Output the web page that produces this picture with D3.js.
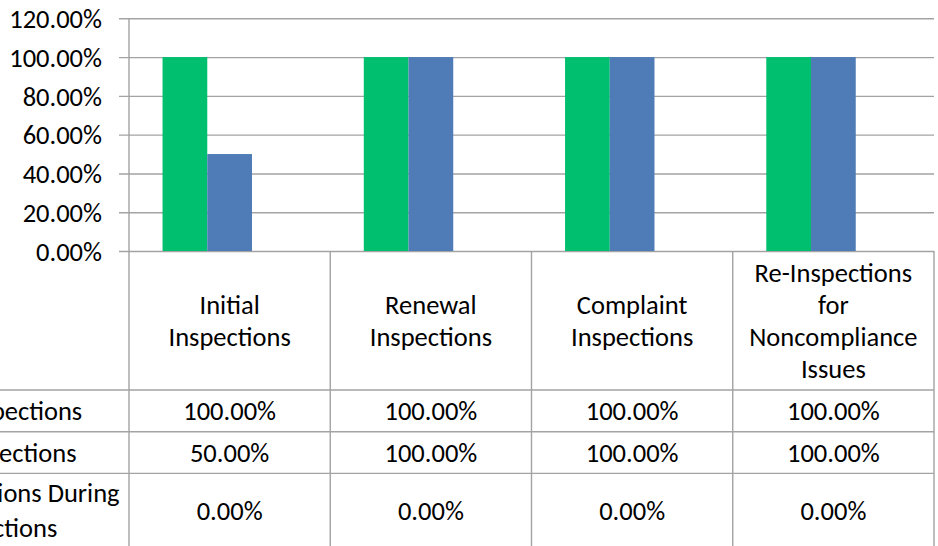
<!DOCTYPE html>
<html>
<head>
<meta charset="utf-8">
<script src="https://cdn.jsdelivr.net/npm/d3@7"></script>
<style>
  html, body { margin: 0; padding: 0; background: #ffffff; }
  svg { display: block; }
  text { font-family: Carlito, Lato, "Open Sans", sans-serif; fill: #000; }
</style>
</head>
<body>
<script>
// ---- data ----
const categories = ["Initial Inspections", "Renewal Inspections", "Complaint Inspections", "Re-Inspections for Noncompliance Issues"];
const seriesNames = ["% Inspections", "# Inspections", "Violations During Inspections"];
const series1 = [1.00, 1.00, 1.00, 1.00];
const series2 = [0.50, 1.00, 1.00, 1.00];
const series3 = [0.00, 0.00, 0.00, 0.00];
const seriesValues = [series1, series2, series3];
const yTicks = [0, 0.2, 0.4, 0.6, 0.8, 1.0, 1.2];
const colors = ["#00BF6F", "#4F7BB6", "#A5A5A5"];

// ---- layout ----
const W = 938, H = 546;
const FS = 26.5;
const plotLeft = 129, plotRight = 934, plotTop = 18.3, plotBottom = 251;
const rowHeights = [139, 41.7, 41.7, 74];
const rowHeaderX = -65;
const gridColor = "#a3a3a3";

const svg = d3.select("body").append("svg").attr("width", W).attr("height", H);

const x0 = d3.scaleBand().domain(categories).range([plotLeft, plotRight]).paddingInner(1/3).paddingOuter(1/6);
const x1 = d3.scaleBand().domain(seriesNames).range([0, x0.bandwidth()]);
const y = d3.scaleLinear().domain([0, 1.2]).range([plotBottom, plotTop]);
const color = d3.scaleOrdinal().domain(seriesNames).range(colors);
const fmt = d3.format(".2%");

// gridlines + ticks
const yAxis = d3.axisLeft(y).tickValues(yTicks).tickFormat(fmt)
  .tickSize(-(plotRight - plotLeft)).tickPadding(0);
const gAxis = svg.append("g").attr("transform", `translate(${plotLeft},0)`).call(yAxis);
gAxis.select(".domain").remove();
gAxis.selectAll(".tick line").attr("stroke", gridColor).attr("stroke-width", 1.4).attr("x1", -10);
gAxis.selectAll(".tick text").attr("x", -27).attr("font-size", FS).attr("fill", "#000")
  .style("font-family", "Carlito, Lato, 'Open Sans', sans-serif").attr("dy", "0.35em");

// bars
const groups = svg.append("g").selectAll("g").data(categories).join("g")
  .attr("transform", c => `translate(${x0(c)},0)`);
groups.selectAll("rect")
  .data((c, i) => seriesNames.map((s, k) => ({ s, v: seriesValues[k][i] })))
  .join("rect")
  .attr("x", d => x1(d.s))
  .attr("width", x1.bandwidth())
  .attr("y", d => y(d.v))
  .attr("height", d => y(0) - y(d.v))
  .attr("fill", d => color(d.s));

// ---- data table ----
const step = x0.step();
const colEdges = d3.range(categories.length + 1).map(i => plotLeft + i * step);
const rowEdges = [plotBottom];
rowHeights.forEach(h => rowEdges.push(rowEdges[rowEdges.length - 1] + h));
const tableBottom = rowEdges[rowEdges.length - 1];

const gT = svg.append("g");
gT.append("line").attr("x1", plotLeft).attr("x2", plotLeft).attr("y1", plotTop).attr("y2", tableBottom)
  .attr("stroke", gridColor).attr("stroke-width", 1.4);
colEdges.slice(1).forEach(xv => {
  gT.append("line").attr("x1", xv).attr("x2", xv).attr("y1", plotBottom).attr("y2", tableBottom)
    .attr("stroke", gridColor).attr("stroke-width", 1.4);
});
rowEdges.slice(1).forEach(yv => {
  gT.append("line").attr("x1", -300).attr("x2", plotRight).attr("y1", yv).attr("y2", yv)
    .attr("stroke", gridColor).attr("stroke-width", 1.4);
});

function wrapLines(str, maxW) {
  const tmp = svg.append("text").attr("font-size", FS);
  const words = str.split(" ");
  const lines = [];
  let cur = "";
  words.forEach(w => {
    const test = cur ? cur + " " + w : w;
    tmp.text(test);
    if (tmp.node().getComputedTextLength() > maxW && cur) { lines.push(cur); cur = w; }
    else cur = test;
  });
  if (cur) lines.push(cur);
  tmp.remove();
  return lines;
}
const lineH = 32;

// header row: category labels
categories.forEach(c => {
  const lines = wrapLines(c, step * 0.86);
  const cy = (rowEdges[0] + rowEdges[1]) / 2;
  const t = gT.append("text").attr("text-anchor", "middle").attr("font-size", FS);
  lines.forEach((ln, i) => {
    t.append("tspan").attr("x", x0(c) + x0.bandwidth() / 2)
      .attr("y", cy + (i - (lines.length - 1) / 2) * lineH).attr("dy", "0.35em").text(ln);
  });
});

// data rows
seriesNames.forEach((s, k) => {
  const cy = (rowEdges[k + 1] + rowEdges[k + 2]) / 2;
  gT.append("rect").attr("x", rowHeaderX - 22).attr("y", cy - 7).attr("width", 14).attr("height", 14).attr("fill", color(s));
  const lines = wrapLines(s, 200);
  const t = gT.append("text").attr("font-size", FS);
  lines.forEach((ln, i) => {
    t.append("tspan").attr("x", rowHeaderX)
      .attr("y", cy + (i - (lines.length - 1) / 2) * 35).attr("dy", "0.35em").text(ln);
  });
  categories.forEach((c, i) => {
    gT.append("text").attr("text-anchor", "middle").attr("font-size", FS)
      .attr("x", x0(c) + x0.bandwidth() / 2).attr("y", cy).attr("dy", "0.35em")
      .text(fmt(seriesValues[k][i]));
  });
});
</script>
</body>
</html>
